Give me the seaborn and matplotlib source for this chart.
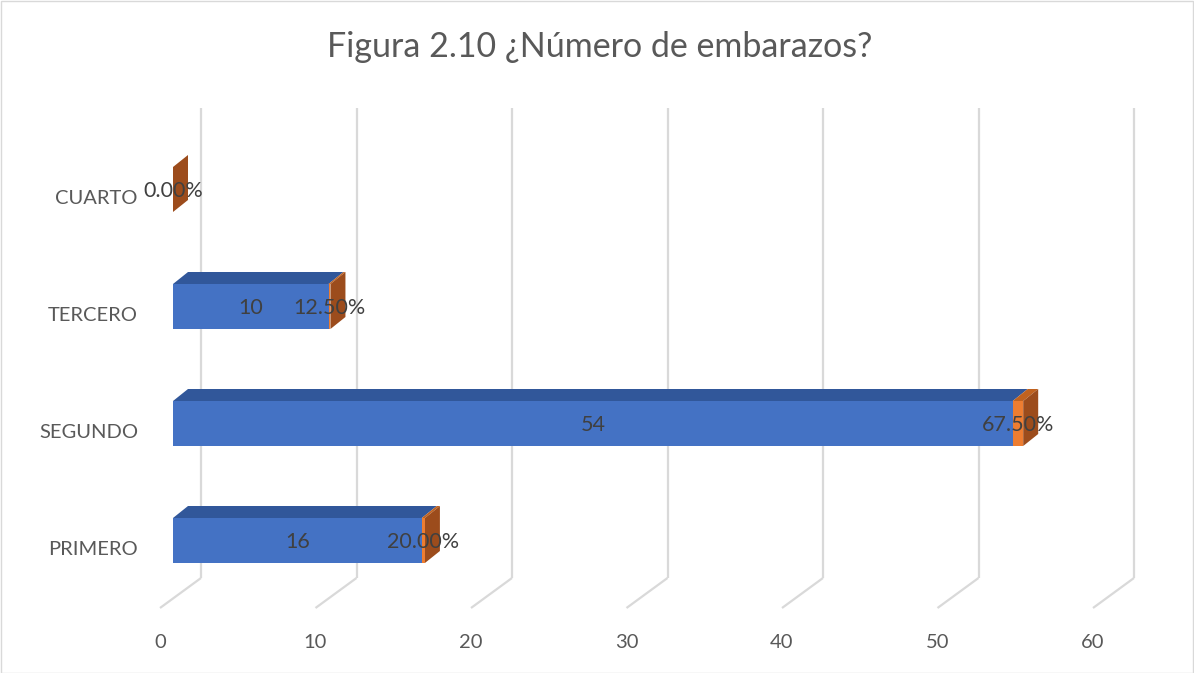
import matplotlib
matplotlib.use("Agg")
import matplotlib.pyplot as plt
from matplotlib.patches import Polygon, Rectangle
import seaborn as sns
import pandas as pd

# Survey answers: number of pregnancies
categories = ["CUARTO", "TERCERO", "SEGUNDO", "PRIMERO"]
counts = [0, 10, 54, 16]
shares = [0.0, 0.125, 0.675, 0.20]   # share of respondents (fraction)
x_ticks = [0, 10, 20, 30, 40, 50, 60]
title = "Figura 2.10 ¿Número de embarazos?"

df = pd.DataFrame({"cat": categories, "count": counts, "share": shares})
df["total"] = df["count"] + df["share"]

sns.set_theme(style="white")
plt.rcParams["font.family"] = ["Lato", "DejaVu Sans"]

W, H, DPI = 1194, 673, 100
fig = plt.figure(figsize=(W / DPI, H / DPI), dpi=DPI)
ax = fig.add_axes([0, 0, 1, 1])

# oblique 3D projection parameters (data units)
PX = 15.55            # pixels per unit along the value axis
ROW = 117.0           # pixels between category rows
x0_px, y0_px = 173.0, 189.5
bar_dx, bar_dy = 15 / PX, -12 / ROW          # bar depth
back_dx = 28 / PX                            # back wall relative to bar fronts
front_dx = -13 / PX                          # floor front edge
wall_top = (108 - y0_px) / ROW
wall_bot = (578 - y0_px) / ROW
floor_front = (608 - y0_px) / ROW

BLUE, BLUE_TOP = "#4472C4", "#31579A"
ORANGE, ORANGE_TOP, ORANGE_SIDE = "#ED7D31", "#C0621F", "#9C4C1C"
GRID = "#D9D9D9"
TXT = "#595959"
LBL = "#404040"

# back-wall gridlines with their floor segments
for v in x_ticks:
    ax.plot([v + back_dx, v + back_dx], [wall_top, wall_bot], color=GRID, lw=1.6, zorder=0,
            solid_capstyle="butt")
    ax.plot([v + back_dx, v + front_dx], [wall_bot, floor_front], color=GRID, lw=1.6, zorder=0,
            solid_capstyle="butt")

# stacked front faces: orange spans count+share, blue count drawn over it
bw = 45 / ROW
sns.barplot(data=df, x="total", y="cat", order=categories, orient="y", color=ORANGE,
            saturation=1, width=bw, ax=ax, edgecolor="none", zorder=3)
sns.barplot(data=df, x="count", y="cat", order=categories, orient="y", color=BLUE,
            saturation=1, width=bw, ax=ax, edgecolor="none", zorder=4)

orange_bars = ax.containers[0]
blue_bars = ax.containers[1]

for ob, bb in zip(orange_bars, blue_bars):
    top = ob.get_y()
    bot = top + ob.get_height()
    xb = bb.get_width()
    xt = ob.get_width()
    # top face of the blue part
    ax.add_patch(Polygon([(0, top), (xb, top), (xb + bar_dx, top + bar_dy), (bar_dx, top + bar_dy)],
                         closed=True, facecolor=BLUE_TOP, edgecolor="none", zorder=2))
    # top face of the orange part
    ax.add_patch(Polygon([(xb, top), (xt, top), (xt + bar_dx, top + bar_dy), (xb + bar_dx, top + bar_dy)],
                         closed=True, facecolor=ORANGE_TOP, edgecolor="none", zorder=2))
    # right side face
    ax.add_patch(Polygon([(xt, top), (xt, bot), (xt + bar_dx, bot + bar_dy), (xt + bar_dx, top + bar_dy)],
                         closed=True, facecolor=ORANGE_SIDE, edgecolor="none", zorder=2))

# value labels
for i, (c, s) in enumerate(zip(counts, shares)):
    if c > 0:
        ax.text(c / 2, i + 0.015, f"{c}", ha="center", va="center", fontsize=15.5, color=LBL, zorder=6)
    ax.text(c + s / 2, i + 0.015, f"{s * 100:.2f}%", ha="center", va="center", fontsize=15.5,
            color=LBL, zorder=6)

# category labels
for i, cat in enumerate(categories):
    ax.text((138 - x0_px) / PX, i + 0.08, cat, ha="right", va="center", fontsize=14.5, color=TXT)

# value-axis labels along the floor front edge
for v in x_ticks:
    ax.text(v + front_dx, (643 - y0_px) / ROW, f"{v}", ha="center", va="center", fontsize=14.5, color=TXT)

ax.text((600 - x0_px) / PX, (47 - y0_px) / ROW, title, ha="center", va="center", fontsize=24.5, color=TXT)

ax.set_xlim(-x0_px / PX, (W - x0_px) / PX)
ax.set_ylim((H - y0_px) / ROW, -y0_px / ROW)
ax.axis("off")

# chart frame
fig.patches.append(Rectangle((0.5 / W, 0.5 / H), 1 - 1.5 / W, 1 - 1.5 / H, transform=fig.transFigure,
                             fill=False, edgecolor=GRID, lw=1))

fig.savefig("out.png", dpi=DPI)
